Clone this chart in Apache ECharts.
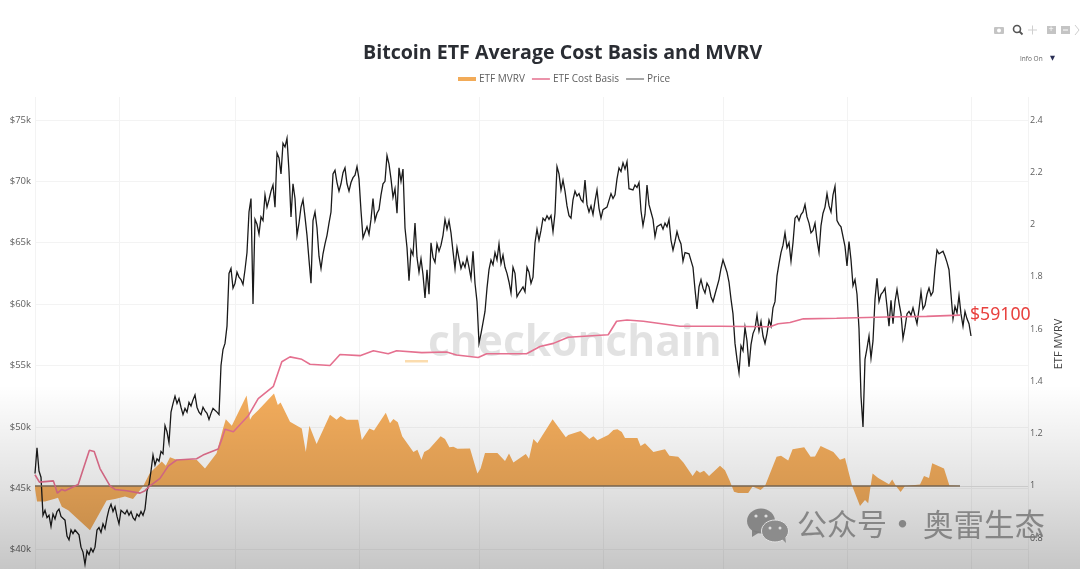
<!DOCTYPE html>
<html><head><meta charset="utf-8">
<style>html,body{margin:0;padding:0;background:#fff;overflow:hidden}#c{width:1080px;height:569px;filter:blur(.35px)}</style>
<script src="https://cdn.jsdelivr.net/npm/echarts@6/dist/echarts.min.js"></script>
</head><body><div id="c"></div>
<script>
const startDate = Date.UTC(2024,0,11);
const lastAxisDay = 248.25;
const seriesNames = ['ETF MVRV','ETF Cost Basis','Price'];
const rightTicks = [0.8,1,1.2,1.4,1.6,1.8,2,2.2,2.4];

// Price in $k, one reading every half day, ten days per row
const priceStepDays = 0.5;
const priceK = [
46.2,48.3,46.4,45.9,42.8,43.2,42.6,42.8,41.9,42.9,42.5,43.1,43.3,42.7,42.8,42.4,41.1,40.8,41.6,41.3,
41.6,41.5,41.2,40.2,39.8,38.8,39.9,39.6,40.1,39.8,40.2,41.6,41.8,41.4,42.1,41.7,42.6,43.3,43.7,43.1,
43.5,42.7,42.1,43.2,43.3,42.9,43.2,42.8,43.1,42.6,42.4,42.9,42.7,43.1,42.8,43.3,44.8,45.3,46.4,47.7,
46.9,47.4,47.2,48,47.8,50.1,49.6,48.7,51.2,51.9,52.5,51.9,52.3,51.6,51,51.5,51.2,52,51.7,52.2,
52.6,51.6,51.2,51,51.6,51.3,51.1,50.6,51.1,51.5,51.6,51.2,51,55,56.3,56.8,58.2,62.5,62.9,61.3,
61.7,62.6,62.2,62,61.6,62.8,64.2,67.5,68.6,60,66.9,66.5,65.7,67.1,66.8,68.9,67.9,68.5,69.2,69.7,
67.9,72.3,71.9,70.6,73.1,72.8,73.5,70.8,67.1,69.8,68.6,65.6,66.6,67.9,68.5,67.1,65.6,63.6,61.7,66.8,
67.5,66.2,63.9,62.9,64.1,64.9,65.6,66.6,67.5,70.6,70.9,69.9,69.2,69.8,70.7,71.1,69.8,69.2,69.9,70.3,
70.5,71.2,70.2,67.6,65.4,65.3,66.3,65.7,66.9,68.6,66.8,67.4,67.7,68.9,69.8,70,72.1,71.4,70.2,68.7,
69.4,67.4,71.1,70,71,66.2,64.6,61.9,64.4,64,66.6,63.8,62.6,63.7,62.4,60.5,62.8,60.8,65,63.8,
63.4,64.9,64.3,64.8,65.6,66.9,66.1,66.8,65.8,64.3,62.9,64.6,63.7,62.9,63.4,63,63.8,63,62.1,64.3,
61.7,60.2,56.8,57.6,58.5,59.4,61.3,62.8,63.6,63.2,64.2,63.6,64.9,63.3,64,63,62.5,61.8,60.9,63,
62.5,60.6,60.9,60.8,61.4,61,63,62.6,61.7,62.2,65,66.1,65.2,66,67,66.8,67.2,66.9,67.2,65.9,
67.4,71.2,70.6,69.3,70.1,69.2,68,67.2,67,68.5,69.2,68.8,69,68.5,68.3,70.1,68.1,67.5,68,67.3,
68.4,69.3,67.8,67,67.7,67.6,67.9,68,69,68.6,68.9,70.2,71.1,70.8,71.5,71,71.6,69.4,69.5,69.3,
69.7,69.5,69.9,67.6,66.4,67.3,69.7,68.1,67.5,66.9,65.5,66.3,66.2,66.5,66.1,66.6,66.3,66.9,65.2,64.4,
65.1,65.9,65.3,64.9,63.5,64.2,64.3,64.1,64.2,63,61.2,59.6,61.4,62,61.3,60.9,61.7,61.4,60.6,60.2,
60.8,60.9,62,62.9,63.6,63.1,62.6,61.8,60.4,59.2,56.8,55.5,54.4,56.6,56.2,58.1,57,54.9,56.7,57.6,
58,59.1,57.8,58.6,57.4,56.8,57.6,58.7,58.2,59.7,60.2,62.3,63.3,64.2,64.8,65.8,64.6,65,63.5,65,
67,67.2,66.8,67.3,67.5,68.1,67.1,66.6,65.8,66,66.6,65.2,64.2,66.4,67.4,67.9,69,68,67.5,68.9,
69.6,66.8,66.5,66.3,66.4,64.7,63.1,65.1,63.6,61.5,62,60.8,58,52.5,50,55.5,56.4,57.4,55.6,57,
60.4,62.1,60.2,60.8,61,61.3,59.8,58.2,60.3,58.4,60.2,61.2,60.1,59.2,57.2,58.1,59.2,59.4,59.1,59.7,
59.8,58.4,59.6,61,59.6,59.9,60.8,61.3,60.7,61,62.9,64.4,64.1,64.2,64.3,63.9,63.4,62.8,60.8,58.8,
59.8,59.3,60.7,59.2,58.2,59.4,58.8,58.4,57.4];

// [days since start, cost basis in $k]
const costPoints = [[0,46.1],[1.1,45.5],[4.6,45.6],[5.6,44.6],[6.7,44.9],[7.5,44.8],[10.8,45.3],[12.1,46.6],[13.6,48.1],[14.8,48],[16.25,46.6],[18.75,45.2],[20,44.9],[22.9,44.8],[26.25,44.6],[27.5,44.8],[28.75,45.2],[31.25,45.8],[33.3,46.8],[35.4,47.3],[40.4,47.4],[42,47.7],[45.8,48.2],[46.7,49],[47.5,49.8],[49.6,49.6],[53.3,50.9],[55.8,52.3],[59.6,53.3],[61.7,55.3],[63.75,55.7],[66.7,55.5],[68.75,55.1],[73.75,55],[76.25,55.9],[81.25,55.8],[84.6,56.2],[88.3,55.95],[90.4,56.2],[96.7,56.05],[102.9,56.1],[105.4,55.85],[110.8,55.65],[112.9,55.95],[122.9,55.95],[126.25,56.55],[129.6,56.8],[133.3,57.3],[143.3,57.5],[145.4,58.6],[148,58.7],[152.1,58.6],[161.25,58.2],[171.25,58.2],[183.75,58.15],[185.8,58.4],[188.75,58.5],[192.1,58.8],[200.4,58.85],[212.9,58.95],[222.9,59],[231.25,59.1]];

// [days since start, ETF MVRV]
const mvrvPoints = [[0,0.99],[0.5,0.94],[2.5,0.94],[4.75,0.95],[5.75,0.955],[6.7,0.92],[8.3,0.907],[13.75,0.83],[17.9,0.944],[20,0.95],[22.5,0.96],[24.5,0.95],[27,0.998],[28.75,1.05],[31.7,1.093],[32.7,1.077],[33.75,1.11],[35.4,1.1],[40.4,1.1],[42.5,1.067],[45.4,1.125],[46.9,1.214],[47.7,1.255],[49.2,1.23],[52.9,1.346],[53.75,1.253],[54.3,1.268],[55.8,1.29],[59.75,1.354],[60.7,1.31],[61.4,1.319],[63.75,1.246],[66.7,1.22],[67.7,1.13],[68.6,1.23],[70.4,1.16],[73.75,1.272],[75.4,1.253],[76.4,1.268],[77.9,1.253],[80.8,1.253],
[81.7,1.176],[83.6,1.22],[84.75,1.212],[87.7,1.28],[88.75,1.24],[89.6,1.256],[90.7,1.244],[91.8,1.19],[94.6,1.13],[95.6,1.138],[96.6,1.1],[97.3,1.13],[98.5,1.14],[101.4,1.19],[102.5,1.18],[103.6,1.148],[104.6,1.15],[105.6,1.142],[108.75,1.143],[110.6,1.048],[111.4,1.067],[112.5,1.126],[115.6,1.126],[117.5,1.095],[118.5,1.124],[119.6,1.09],[122.7,1.122],[123.5,1.104],[124.6,1.18],[125.6,1.163],[129.4,1.255],[132.7,1.186],[133.3,1.195],[136.4,1.21],[138.6,1.18],[139.6,1.19],[140.6,1.175],[143.3,1.195],[144.6,1.214],[145.6,1.217],[146.7,1.206],[147.5,1.183],[150.6,1.183],[151.4,1.153],[152.5,1.163],[154.6,1.13],[157.5,1.14],[158.6,1.115],[160.8,1.112],[162.1,1.09],[164.4,1.038],[165.4,1.06],[166.25,1.05],[167.25,1.058],[168.5,1.038],[171.25,1.077],
[172.5,1.06],[173.6,1.023],[174.2,1],[174.75,0.978],[175.8,0.973],[178.3,0.973],[179.4,0.998],[181.4,0.984],[182.5,1],[185.4,1.112],[186.5,1.115],[188.3,1.097],[189.4,1.14],[192.3,1.148],[193.9,1.112],[195,1.113],[196.4,1.153],[199.6,1.13],[201.25,1.1],[202.5,1.107],[204.3,1],[206.25,0.923],[207.5,0.946],[208.3,0.934],[208.9,1],[209.4,1.048],[210.8,1.03],[213.5,1.006],[214.3,1.025],[215.25,1],[216.4,0.977],[217.5,1],[221.25,1.005],[222.25,1.038],[223.5,1.03],[224.3,1.087],[227.25,1.067],[228.6,1.002],[231.25,1]];

const toTime = d => startDate + d * 86400000;
const asSeries = (pts, k) => pts.map(p => [toTime(p[0]), p[1] * k]);
const FONT = '"Open Sans", sans-serif';
const GREY = '#5f5f5f';
const THIN = 'path://M0,0h.01v.01h-.01z M0,4.2h18v1.6h-18z M17.99,9.99h.01v.01h-.01z';
const THICK = 'path://M0,0h.01v.01h-.01z M0,3h18v4h-18z M17.99,9.99h.01v.01h-.01z';

const chart = echarts.init(document.getElementById('c'), null, {renderer:'canvas'});
chart.setOption({
  animation:false,
  backgroundColor:'#ffffff',
  textStyle:{fontFamily:FONT},
  title:{text:'Bitcoin ETF Average Cost Basis and MVRV',left:358,top:38,
    textStyle:{fontFamily:FONT,fontSize:19.6,fontWeight:700,color:'#2a2d33'}},
  legend:{left:458,top:74,padding:0,itemGap:7,itemWidth:18,itemHeight:10,
    textStyle:{fontFamily:FONT,fontSize:10,color:GREY,padding:[0,0,0,-2]},
    data:[
      {name:seriesNames[0],icon:THICK,itemStyle:{color:'#f2ab58'}},
      {name:seriesNames[1],icon:THIN,itemStyle:{color:'#e5708f'}},
      {name:seriesNames[2],icon:THIN,itemStyle:{color:'#8a8a8a'}}]},
  grid:{left:35,width:993,top:97,height:514,outerBoundsMode:'none'},
  xAxis:{type:'time',min:toTime(0),max:toTime(lastAxisDay),
    axisLabel:{show:false},axisTick:{show:false},axisLine:{show:false},
    splitLine:{show:true,lineStyle:{color:'#f3f3f3',width:1}}},
  yAxis:[
    {type:'value',position:'left',min:35000,max:76870,interval:5000,
      axisLine:{show:false},axisTick:{show:false},
      axisLabel:{showMinLabel:false,showMaxLabel:false,margin:4,fontFamily:FONT,fontSize:9.5,color:GREY,
        formatter:v=>'$'+(v/1000)+'k'},
      splitLine:{show:true,showMaxLine:false,showMinLine:false,lineStyle:{color:'#f3f3f3',width:1}}},
    {type:'value',position:'right',min:0.5215,max:2.488,
      name:'ETF MVRV',nameLocation:'middle',nameGap:20,nameRotate:90,
      nameTextStyle:{fontFamily:FONT,fontSize:11,color:'#444',padding:[0,0,0,20]},
      axisLine:{show:false},axisTick:{show:false},splitLine:{show:false},
      axisLabel:{customValues:rightTicks,margin:2,fontFamily:FONT,fontSize:9,color:GREY}}
  ],
  series:[
    {name:seriesNames[0],type:'line',yAxisIndex:1,showSymbol:false,symbol:'none',z:2,
      data:asSeries(mvrvPoints,1),
      lineStyle:{width:0,color:'#f2ab58'},itemStyle:{color:'#f2ab58'},
      areaStyle:{origin:1,color:'#f4ad5c',opacity:1},
      markLine:{silent:true,symbol:'none',label:{show:false},animation:false,
        data:[[{coord:[toTime(0),1],lineStyle:{color:'#85705a',width:1.5,type:'solid'}},{coord:[toTime(231.25),1]}],
              [{coord:[toTime(231.25),1],lineStyle:{color:'#e4e4e4',width:1,type:'solid'}},{coord:[toTime(lastAxisDay),1]}]]}},
    {name:seriesNames[1],type:'line',showSymbol:false,symbol:'none',z:5,
      data:asSeries(costPoints,1000),
      lineStyle:{width:1.6,color:'#e5708f'},itemStyle:{color:'#e5708f'}},
    {name:seriesNames[2],type:'line',showSymbol:false,symbol:'none',z:4,
      data:priceK.map((v,i)=>[toTime(i*priceStepDays),v*1000]),
      lineStyle:{width:1.3,color:'#1a1a1a',join:'miter'},itemStyle:{color:'#8a8a8a'}}
  ],
  graphic:{elements:[
    {type:'text',z:1,left:428,top:322,style:{text:'checkonchain',fontFamily:FONT,fontWeight:700,fontSize:42.5,fill:'rgba(0,0,0,0.115)'}},
    {type:'rect',z:1,shape:{x:405,y:360,width:23,height:2.5},style:{fill:'#fbdcae'}},
    {type:'rect',z:50,silent:true,shape:{x:0,y:385,width:1080,height:184},
      style:{fill:new echarts.graphic.LinearGradient(0,0,0,1,[
        {offset:0,color:'rgba(0,0,0,0)'},{offset:0.55,color:'rgba(0,0,0,0.115)'},{offset:1,color:'rgba(0,0,0,0.225)'}])}},
    {type:'text',z:60,left:970,top:306,style:{text:'$59100',fontFamily:'"Noto Sans", sans-serif',fontSize:17.7,fill:'#e8413e'}},
    // WeChat mark
    {type:'ellipse',z:60,shape:{cx:761,cy:521,rx:14,ry:12.5},style:{fill:'rgba(125,125,125,0.9)'}},
    {type:'polygon',z:60,shape:{points:[[752,530],[752,537],[760,532]]},style:{fill:'rgba(125,125,125,0.9)'}},
    {type:'ellipse',z:61,shape:{cx:775,cy:531,rx:13.5,ry:11},style:{fill:'#8c8c8c',stroke:'#e2e2e2',lineWidth:1}},
    {type:'polygon',z:61,shape:{points:[[781,538],[786,543],[785,535]]},style:{fill:'#8c8c8c'}},
    {type:'circle',z:62,shape:{cx:756,cy:516,r:1.6},style:{fill:'#ddd'}},
    {type:'circle',z:62,shape:{cx:766,cy:516,r:1.6},style:{fill:'#ddd'}},
    {type:'circle',z:62,shape:{cx:770,cy:528,r:1.5},style:{fill:'#ddd'}},
    {type:'circle',z:62,shape:{cx:780,cy:528,r:1.5},style:{fill:'#ddd'}},
    {type:'text',z:60,left:797,top:509,style:{text:'公众号',fontFamily:'"Noto Sans CJK SC"',fontSize:30,fill:'rgba(120,120,120,0.85)'}},
    {type:'text',z:60,left:888,top:509,style:{text:'·',fontFamily:'"Noto Sans CJK SC"',fontSize:29,fontWeight:700,fill:'rgba(120,120,120,0.85)'}},
    {type:'text',z:60,left:923,top:509,style:{text:'奥雷生态',fontFamily:'"Noto Sans CJK SC"',fontSize:30.5,fill:'rgba(120,120,120,0.85)'}},
    // toolbar
    {type:'rect',z:60,shape:{x:994,y:27,width:10,height:7,r:1},style:{fill:'#c4c4c4'}},
    {type:'circle',z:61,shape:{cx:999,cy:30.5,r:2},style:{fill:'#fff'}},
    {type:'circle',z:60,shape:{cx:1017,cy:29,r:3.5},style:{fill:'none',stroke:'#555',lineWidth:1.6}},
    {type:'line',z:60,shape:{x1:1019.5,y1:31.5,x2:1022.5,y2:34.5},style:{stroke:'#555',lineWidth:1.8}},
    {type:'line',z:60,shape:{x1:1028,y1:30,x2:1037,y2:30},style:{stroke:'#cfcfcf',lineWidth:1}},
    {type:'line',z:60,shape:{x1:1032.5,y1:25.5,x2:1032.5,y2:34.5},style:{stroke:'#cfcfcf',lineWidth:1}},
    {type:'rect',z:60,shape:{x:1047,y:26,width:9,height:8},style:{fill:'#c4c4c4'}},
    {type:'text',z:61,left:1048.5,top:25,style:{text:'+',fontFamily:FONT,fontSize:9,fill:'#fff'}},
    {type:'rect',z:60,shape:{x:1061,y:26,width:9,height:8},style:{fill:'#c4c4c4'}},
    {type:'line',z:61,shape:{x1:1063,y1:30,x2:1068,y2:30},style:{stroke:'#fff',lineWidth:1}},
    {type:'polyline',z:60,shape:{points:[[1075,25],[1079,30],[1075,35]]},style:{fill:'none',stroke:'#cfcfcf',lineWidth:1}},
    {type:'text',z:60,left:1020,top:56,style:{text:'Info On',fontFamily:FONT,fontSize:6.5,fill:'#666'}},
    {type:'text',z:60,left:1050,top:55,style:{text:'▼',fontFamily:'"DejaVu Sans"',fontSize:6.5,fill:'#2a2f55'}}
  ]}
});
</script></body></html>
